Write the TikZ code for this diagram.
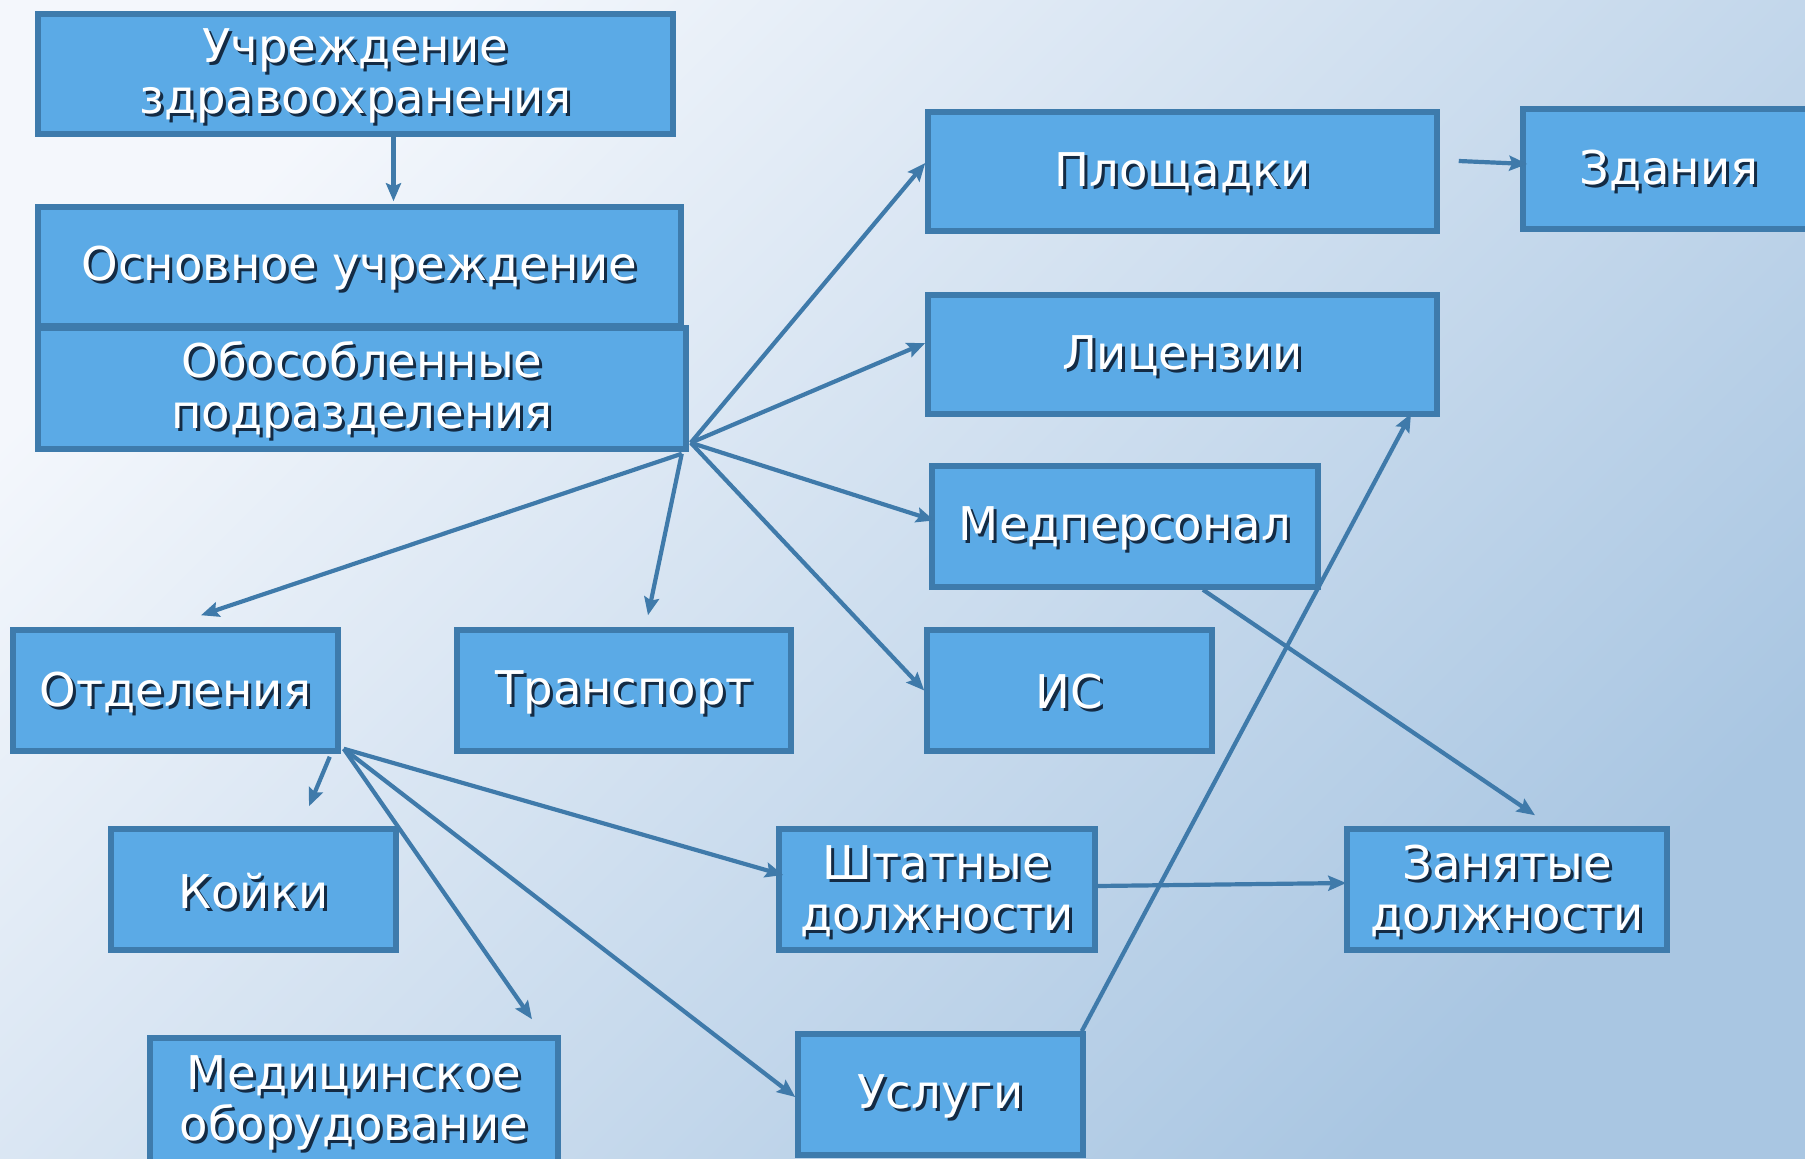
\documentclass[tikz,border=0pt]{standalone}
\usepackage{fontspec}
\setmainfont{DejaVu Sans}
\usetikzlibrary{arrows.meta,calc}
\definecolor{boxfill}{HTML}{5BAAE6}
\definecolor{boxline}{HTML}{3E7BAC}
\definecolor{arrowc}{HTML}{3F7AAA}
\definecolor{shadowc}{HTML}{142B44}
\definecolor{bgA}{HTML}{F4F7FC}
\definecolor{bgM}{HTML}{EBF1F8}
\definecolor{bgB}{HTML}{A9C6E2}
\newcommand{\stx}[1]{\leavevmode\raisebox{-3pt}[\height][\depth]{\rlap{\raisebox{-3pt}{\hspace{3pt}\textcolor{shadowc}{#1}}}#1}}
\begin{document}
\begin{tikzpicture}[x=1pt,y=-1pt,
  box/.style={draw=boxline, line width=5.5pt, fill=boxfill, text=white,
    font=\fontsize{46.5}{51}\selectfont, align=center, inner sep=0pt, anchor=center},
  arr/.style={draw=arrowc, line width=4.2pt, -{Stealth[length=18pt,width=15pt,inset=3pt]}}]
\useasboundingbox (0,0) rectangle (1805,1159);
\shade[top color=bgA, middle color=bgM, bottom color=bgB, shading angle=45] (0,0) rectangle (1805,1159);

\node[box, minimum width=635pt, minimum height=120pt] (uchr) at (355.5,74) {\stx{Учреждение}\\\stx{здравоохранения}};
\node[box, minimum width=643pt, minimum height=119pt] (osn) at (359.5,266.5) {\stx{Основное учреждение}};
\node[box, minimum width=648pt, minimum height=121pt] (obos) at (362,388.5) {\stx{Обособленные}\\\stx{подразделения}};
\node[box, minimum width=509pt, minimum height=119pt] (plosh) at (1182.5,171.5) {\stx{Площадки}};
\node[box, minimum width=292pt, minimum height=120pt] (zdan) at (1669,169) {\stx{Здания}};
\node[box, minimum width=509pt, minimum height=119pt] (lic) at (1182.5,354.5) {\stx{Лицензии}};
\node[box, minimum width=386pt, minimum height=121pt] (medp) at (1125,526.5) {\stx{Медперсонал}};
\node[box, minimum width=285pt, minimum height=121pt] (is) at (1069.5,690.5) {\stx{ИС}};
\node[box, minimum width=325pt, minimum height=121pt] (otd) at (175.5,690.5) {\stx{Отделения}};
\node[box, minimum width=334pt, minimum height=121pt] (transp) at (624,690.5) {\stx{Транспорт}};
\node[box, minimum width=285pt, minimum height=121pt] (koyki) at (253.5,889.5) {\stx{Койки}};
\node[box, minimum width=408pt, minimum height=127pt] (medob) at (354,1101.5) {\stx{Медицинское}\\\stx{оборудование}};
\node[box, minimum width=316pt, minimum height=121pt] (shtat) at (937,889.5) {\stx{Штатные}\\\stx{должности}};
\node[box, minimum width=320pt, minimum height=121pt] (zan) at (1507,889.5) {\stx{Занятые}\\\stx{должности}};
\node[box, minimum width=285pt, minimum height=121pt] (usl) at (940.5,1094.5) {\stx{Услуги}};

\coordinate (hubA) at ($(obos.south east)+(2,-9)$);
\coordinate (hubA2) at ($(obos.south east)+(-7,2)$);
\coordinate (hubB) at ($(otd.south east)+(3,-5)$);
\coordinate (hubB2) at ($(otd.south east)+(-11,3)$);

\draw[arr] ([xshift=38pt]uchr.south) -- ([xshift=34pt,yshift=3pt]osn.north);

\draw[arr] (hubA) -- ([yshift=8.5pt]plosh.west);
\draw[arr] (hubA) -- ([yshift=11.5pt]lic.west);
\draw[arr] (hubA) -- ([xshift=5pt,yshift=6pt]medp.west);
\draw[arr] (hubA) -- (is.west);
\draw[arr] (hubA2) -- ([xshift=24pt,yshift=12pt]transp.north);
\draw[arr] (hubA2) -- ([xshift=25.5pt,yshift=12pt]otd.north);

\draw[arr] ([xshift=19pt,yshift=10.5pt]plosh.east) -- ([xshift=7pt,yshift=5pt]zdan.west);

\draw[arr] (hubB2) -- ([xshift=55.5pt,yshift=20pt]koyki.north);
\draw[arr] (hubB) -- ([xshift=178pt,yshift=16pt]medob.north);
\draw[arr] (hubB) -- ([xshift=7pt,yshift=14.5pt]shtat.west);
\draw[arr] (hubB) -- ([yshift=-2.5pt]usl.west);

\draw[arr] ([xshift=78pt]medp.south) -- ([xshift=28pt,yshift=11pt]zan.north);
\draw[arr] ([yshift=3.5pt]shtat.east) -- ([xshift=2pt,yshift=6.5pt]zan.west);
\draw[arr] ([xshift=-4pt]usl.north east) -- ([xshift=228.5pt,yshift=3pt]lic.south);
\end{tikzpicture}
\end{document}
